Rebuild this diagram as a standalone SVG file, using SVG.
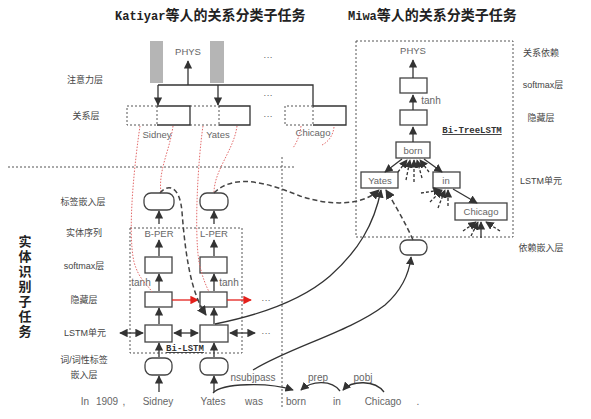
<svg xmlns="http://www.w3.org/2000/svg" width="591" height="419" viewBox="0 0 591 419">
<defs>
<marker id="ah" viewBox="0 0 10 10" refX="9" refY="5" markerWidth="6.5" markerHeight="6.5" orient="auto-start-reverse"><path d="M0,0 L10,5 L0,10 z" fill="#333"/></marker>
<marker id="ahr" viewBox="0 0 10 10" refX="9" refY="5" markerWidth="6.5" markerHeight="6.5" orient="auto"><path d="M0,0 L10,5 L0,10 z" fill="#e3211c"/></marker>
</defs>
<style>
.t{font-family:"Liberation Sans","Noto Sans CJK SC",sans-serif;fill:#444;font-size:9px;text-anchor:middle}
.n{font-family:"Liberation Sans","Noto Sans CJK SC",sans-serif;fill:#666;font-size:9.5px;text-anchor:middle}
.w{font-family:"Liberation Sans",sans-serif;fill:#666;font-size:10px;text-anchor:middle}
.ttl{font-family:"Noto Sans CJK SC",sans-serif;font-weight:bold;font-size:14px;fill:#222}
.mono{font-family:"Liberation Mono",monospace;font-weight:bold}
.big{font-family:"Noto Sans CJK SC",sans-serif;font-weight:bold;font-size:13px;fill:#222;writing-mode:vertical-rl;letter-spacing:2px}
.bx{fill:#fff;stroke:#444;stroke-width:1.3}
.dot{fill:none;stroke:#555;stroke-width:1;stroke-dasharray:2,2}
.ln{fill:none;stroke:#333;stroke-width:1.3}
.ar{fill:none;stroke:#333;stroke-width:1.3;marker-end:url(#ah)}
.dar{fill:none;stroke:#444;stroke-width:1.5;stroke-dasharray:5,3;marker-end:url(#ah)}
.rd{fill:none;stroke:#e36a6a;stroke-width:1;stroke-dasharray:1.5,1.5}
.bl{font-family:"Liberation Mono",monospace;font-weight:bold;font-size:9px;fill:#333;text-anchor:middle;text-decoration:underline}
</style>
<rect width="591" height="419" fill="#fff"/>

<!-- titles -->
<text class="ttl" x="115" y="20"><tspan class="mono" font-size="12">Katiyar</tspan>等人的关系分类子任务</text>
<text class="ttl" x="348" y="20"><tspan class="mono" font-size="12">Miwa</tspan>等人的关系分类子任务</text>

<!-- side labels -->
<g id="labels-left">
<text class="t" x="85" y="83">注意力层</text>
<text class="t" x="86" y="119">关系层</text>
<text class="t" x="83" y="205">标签嵌入层</text>
<text class="t" x="84" y="236">实体序列</text>
<text class="t" x="84" y="269">softmax层</text>
<text class="t" x="84" y="303">隐藏层</text>
<text class="t" x="85" y="336">LSTM单元</text>
<text class="t" x="84" y="363">词/词性标签</text>
<text class="t" x="84" y="378">嵌入层</text>
<text class="big" x="25" y="235">实体识别子任务</text>
</g>
<g id="labels-right">
<text class="t" x="541" y="56">关系依赖</text>
<text class="t" x="543" y="88">softmax层</text>
<text class="t" x="541" y="121">隐藏层</text>
<text class="t" x="541" y="184">LSTM单元</text>
<text class="t" x="541" y="251">依赖嵌入层</text>
</g>

<!-- separators -->
<path class="dot" d="M8,167 H295"/>
<path class="dot" d="M282,157 V408"/>
<rect class="dot" x="130" y="228" width="112" height="125"/>
<rect class="dot" x="356" y="41" width="157" height="196"/>

<!-- attention -->
<g id="attention">
<rect x="150" y="41" width="13" height="42" fill="#b5b5b5"/>
<rect x="210" y="41" width="14" height="42" fill="#b5b5b5"/>
<text class="n" x="188" y="55">PHYS</text>
<text class="n" x="268" y="60">···</text>
<text class="n" x="268" y="98">···</text>
<text class="n" x="268" y="119">···</text>
</g>

<!-- relation layer -->
<g id="relation-layer">
<path class="dot" d="M157,106 H127 V125 H157 M157,106 V125 M190,106 H219 M190,125 H219 M219,106 V125 M313,106 H285 V125 H313 M313,106 V125"/>
<path class="ln" d="M157,106 H190 V125 H157 M219,106 H250 V125 H219 M313,106 H346 V125 H313"/>
<text class="n" x="157" y="138">Sidney</text>
<text class="n" x="218" y="138">Yates</text>
<text class="n" x="313" y="136">Chicago</text>
</g>

<!-- left network nodes -->
<g id="label-emb-1"><rect class="bx" x="144" y="193" width="30" height="17" rx="7"/></g>
<g id="label-emb-2"><rect class="bx" x="200" y="193" width="28" height="17" rx="7"/></g>
<g id="ent-1"><text class="n" x="159" y="237">B-PER</text></g>
<g id="ent-2"><text class="n" x="214" y="237">L-PER</text></g>
<g id="softmax-1"><rect class="bx" x="145" y="257" width="27" height="16"/></g>
<g id="softmax-2"><rect class="bx" x="200" y="257" width="27" height="16"/></g>
<g id="hidden-1"><rect class="bx" x="145" y="292" width="27" height="15"/></g>
<g id="hidden-2"><rect class="bx" x="200" y="292" width="27" height="15"/></g>
<g id="lstm-1"><rect class="bx" x="145" y="325" width="27" height="17"/></g>
<g id="lstm-2"><rect class="bx" x="200" y="325" width="28" height="17"/></g>
<g id="wemb-1"><rect class="bx" x="145" y="358" width="27" height="17" rx="7"/></g>
<g id="wemb-2"><rect class="bx" x="200" y="358" width="28" height="17" rx="7"/></g>
<text class="bl" x="185" y="351">Bi-LSTM</text>
<text class="w" x="141" y="286" font-size="9">tanh</text>
<text class="w" x="229" y="286" font-size="9">tanh</text>
<text class="n" x="266" y="303">···</text>
<text class="n" x="266" y="336">···</text>

<!-- words -->
<g id="words">
<text class="w" x="85" y="405">In</text>
<text class="w" x="107" y="405">1909</text>
<text class="w" x="124" y="405">,</text>
<text class="w" x="158" y="405">Sidney</text>
<text class="w" x="213" y="405">Yates</text>
<text class="w" x="254" y="405">was</text>
<text class="w" x="296" y="405">born</text>
<text class="w" x="337" y="405">in</text>
<text class="w" x="383" y="405">Chicago</text>
<text class="w" x="418" y="405">.</text>
<text class="w" x="253" y="381" font-size="9.5">nsubjpass</text>
<text class="w" x="318" y="381" font-size="9.5">prep</text>
<text class="w" x="363" y="381" font-size="9.5">pobj</text>
</g>

<!-- right network nodes -->
<g id="r-phys"><text class="n" x="413" y="54">PHYS</text></g>
<g id="r-softmax"><rect class="bx" x="400" y="78" width="27" height="15"/></g>
<g id="r-hidden"><rect class="bx" x="400" y="110" width="27" height="15"/></g>
<text class="w" x="431" y="104" font-size="9">tanh</text>
<text class="bl" x="472" y="133">Bi-TreeLSTM</text>
<g id="r-born"><rect class="bx" x="396" y="142" width="34" height="16"/><text class="n" x="413" y="154">born</text></g>
<g id="r-yates"><rect class="bx" x="361" y="172" width="37" height="16"/><text class="n" x="380" y="184">Yates</text></g>
<g id="r-in"><rect class="bx" x="433" y="172" width="27" height="16"/><text class="n" x="446" y="184">in</text></g>
<g id="r-chicago"><rect class="bx" x="455" y="203" width="52" height="17"/><text class="n" x="481" y="215">Chicago</text></g>
<g id="dep-emb"><rect class="bx" x="400" y="240" width="27" height="15" rx="7"/></g>

<!-- connectors -->
<g id="connectors">
<!-- attention -->
<path class="ln" d="M158,85 H313 V106"/>
<path class="ar" d="M188,85 V61"/>
<path class="ar" d="M158,85 V105"/>
<path class="ar" d="M218,85 V105"/>
<!-- red dotted -->
<path class="rd" d="M140,126 C135,160 127,230 134,262 C139,280 148,285 152,292"/>
<path class="rd" d="M173,126 C170,150 158,170 161,193"/>
<path class="rd" d="M203,126 C198,160 194,230 199,262 C203,280 206,285 209,292"/>
<path class="rd" d="M237,126 C234,150 214,170 214,193"/>
<path class="rd" d="M301,126 C300,135 297,142 293,148"/>
<path class="rd" d="M334,127 C333,136 328,142 322,145"/>
<!-- left vertical arrows -->
<path class="ar" d="M159,224 V211"/>
<path class="ar" d="M214,224 V211"/>
<path class="ar" d="M159,256 V240"/>
<path class="ar" d="M214,256 V240"/>
<path class="ar" d="M159,291 V274"/>
<path class="ar" d="M214,291 V274"/>
<path class="ar" d="M159,324 V308"/>
<path class="ar" d="M214,324 V308"/>
<path class="ar" d="M159,357 V343"/>
<path class="ar" d="M214,357 V343"/>
<path class="ar" d="M159,392 V376"/>
<path class="ar" d="M214,392 V376"/>
<!-- red arrows -->
<path fill="none" stroke="#e3211c" stroke-width="1.3" marker-end="url(#ahr)" d="M172,300 H198"/>
<path fill="none" stroke="#e3211c" stroke-width="1.3" marker-end="url(#ahr)" d="M227,300 H251"/>
<!-- lstm double arrows -->
<path class="ar" marker-start="url(#ah)" d="M120,333 H143"/>
<path class="ar" marker-start="url(#ah)" d="M174,333 H198"/>
<path class="ar" marker-start="url(#ah)" d="M230,333 H255"/>
<!-- dashed label-embedding connectors -->
<path class="dar" d="M160,193 C168,183 180,186 182,212 C185,250 190,292 206,315"/>
<path class="dar" d="M214,193 C235,172 270,184 300,196 C330,206 362,206 379,190"/>
<!-- solid LSTM to Yates -->
<path class="ar" d="M215,324 C255,316 300,302 330,276 C358,251 374,225 381,190"/>
<!-- dep path to dep embedding -->
<path class="ar" d="M253,370 C290,347 350,332 385,305 C402,290 409,275 411,257"/>
<!-- dep emb to Yates -->
<path class="dar" d="M413,240 C405,222 395,205 386,190"/>
<!-- right tree -->
<path class="ar" d="M413,78 V60"/>
<path class="ar" d="M413,110 V95"/>
<path class="ar" d="M413,142 V127"/>
<path class="ar" d="M402,159 L385,172"/>
<path class="ar" d="M424,159 L442,172"/>
<path class="ar" d="M453,189 L477,203"/>
<!-- fans -->
<path class="ar" stroke-dasharray="3,2" d="M398,172 L407,160"/>
<path class="ar" stroke-dasharray="3,2" d="M406,180 L410,160"/>
<path class="ar" stroke-dasharray="3,2" d="M414,182 L414,160"/>
<path class="ar" stroke-dasharray="3,2" d="M422,178 L417,160"/>
<path class="ar" stroke-dasharray="3,2" d="M429,172 L420,160"/>
<path class="ar" stroke-dasharray="3,2" d="M421,193 L441,190"/>
<path class="ar" stroke-dasharray="3,2" d="M430,202 L442,190"/>
<path class="ar" stroke-dasharray="3,2" d="M438,208 L445,190"/>
<path class="ar" stroke-dasharray="3,2" d="M448,206 L448,190"/>
<path class="ar" stroke-dasharray="3,2" d="M463,231 L476,222"/>
<path class="ar" stroke-dasharray="3,2" d="M471,236 L478,222"/>
<path class="ar" d="M481,238 L481,222"/>
<path class="ar" stroke-dasharray="3,2" d="M500,231 L486,222"/>
<!-- dependency arcs -->
<path class="ar" d="M213,393 C222,383 268,382 293,390"/>
<path class="ar" d="M340,391 C332,380 312,380 301,390"/>
<path class="ar" d="M384,392 C375,380 352,380 343,390"/>
</g>
</svg>
